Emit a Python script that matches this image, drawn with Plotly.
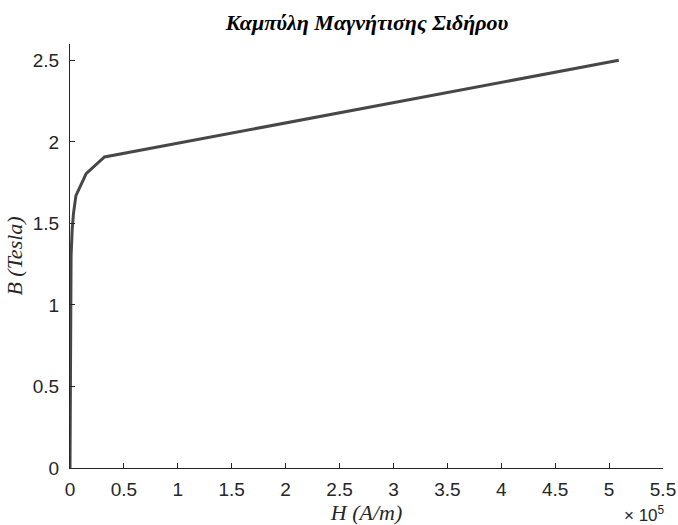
import plotly.graph_objects as go

# Magnetization (B-H) curve of iron
H_values = [0, 500, 1000, 2000, 3200, 5500, 15000, 32000, 509000]   # A/m
B_values = [0, 1.0, 1.3, 1.46, 1.56, 1.67, 1.805, 1.907, 2.50]       # Tesla

x_ticks = [0, 0.5e5, 1e5, 1.5e5, 2e5, 2.5e5, 3e5, 3.5e5, 4e5, 4.5e5, 5e5, 5.5e5]
x_tick_labels = ["0", "0.5", "1", "1.5", "2", "2.5", "3", "3.5", "4", "4.5", "5", "5.5"]
y_ticks = [0, 0.5, 1, 1.5, 2, 2.5]
y_tick_labels = ["0", "0.5", "1", "1.5", "2", "2.5"]

axis_color = "#262626"
sans = "Liberation Sans, Arial, sans-serif"
serif = "Liberation Serif, Times New Roman, serif"
tick_font = dict(family=sans, size=19, color=axis_color)

fig = go.Figure()
fig.add_trace(go.Scatter(
    x=H_values, y=B_values, mode="lines",
    line=dict(color="#474747", width=3),
    showlegend=False,
))

fig.update_layout(
    width=678, height=525,
    margin=dict(l=70, r=15, t=44, b=57),
    paper_bgcolor="white", plot_bgcolor="white",
    title=dict(
        text="<b><i>Καμπύλη Μαγνήτισης Σιδήρου</i></b>",
        x=0.5415, xanchor="center", y=0.957, yanchor="middle",
        font=dict(family=serif, size=22, color="black"),
    ),
    xaxis=dict(
        range=[0, 5.5e5], tickvals=x_ticks, ticktext=x_tick_labels,
        showgrid=False, zeroline=False, showline=True, linecolor=axis_color, linewidth=1,
        ticks="inside", ticklen=5, tickcolor=axis_color, tickfont=tick_font,
        ticklabelstandoff=4, automargin=False,
        title=dict(text="<i>H (A/m)</i>", font=dict(family=serif, size=22, color=axis_color), standoff=1),
    ),
    yaxis=dict(
        range=[0, 2.6], tickvals=y_ticks, ticktext=y_tick_labels,
        showgrid=False, zeroline=False, showline=True, linecolor=axis_color, linewidth=1,
        ticks="inside", ticklen=5, tickcolor=axis_color, tickfont=tick_font,
        ticklabelstandoff=6, automargin=False,
        title=dict(text="<i>B (Tesla)</i>", font=dict(family=serif, size=22, color=axis_color), standoff=4),
    ),
)

# Exponent multiplier for the H axis
fig.add_annotation(
    text="× 10<sup>5</sup>", xref="paper", yref="paper",
    x=1.006, y=-0.078, xanchor="right", yanchor="top", showarrow=False,
    font=dict(family=sans, size=17, color=axis_color),
)

fig.write_html("out.html")
